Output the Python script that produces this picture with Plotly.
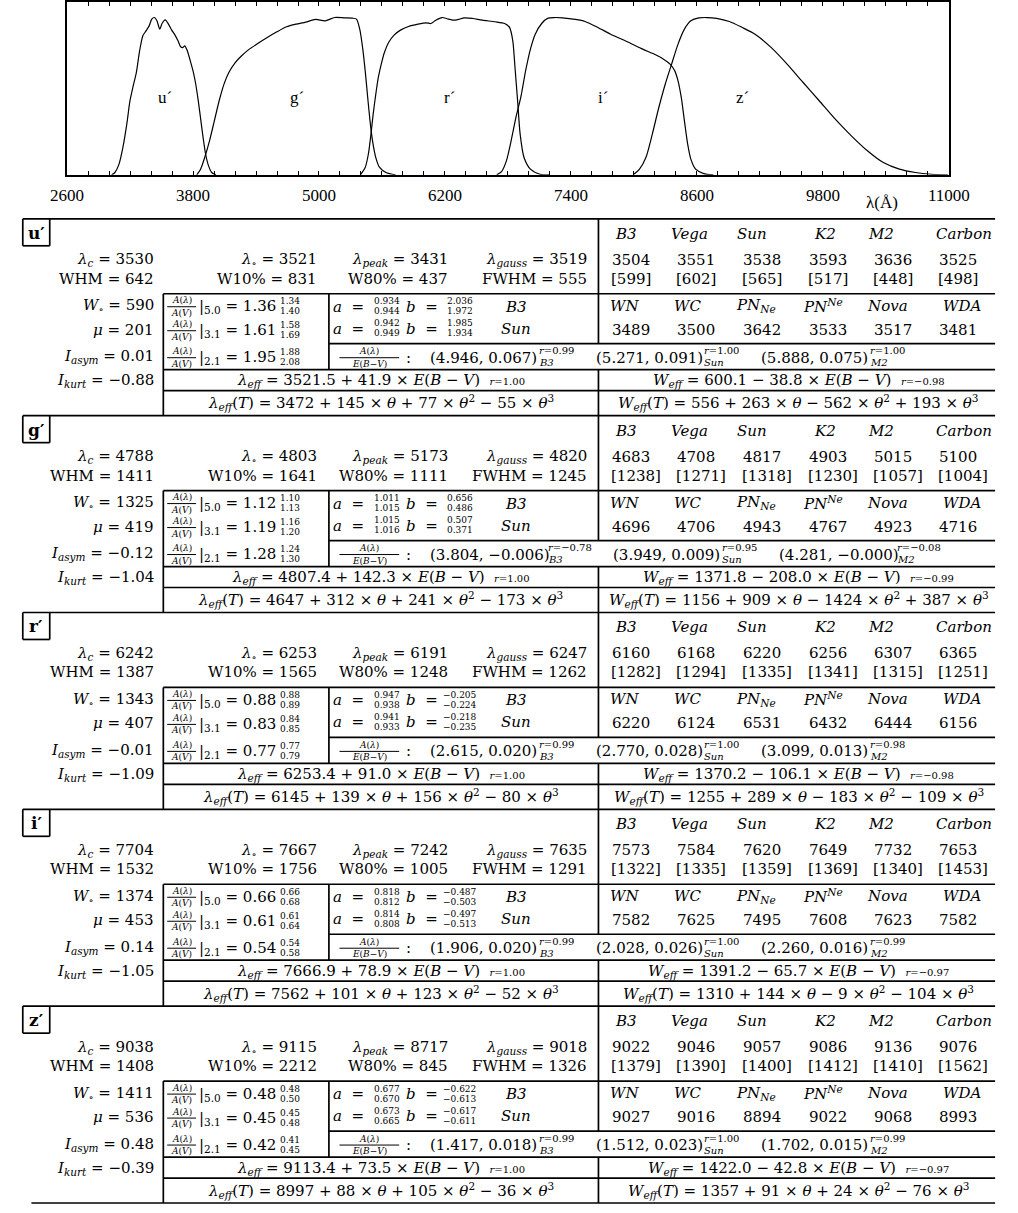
import plotly.graph_objects as go

W, H = 1018, 1213

# ------------------------------------------------------------------
# Filter response curves: wavelength (Å) and normalised transmission
# ------------------------------------------------------------------
u_wave = [3025, 3056, 3095, 3132, 3169, 3199, 3230, 3260, 3291, 3322, 3352, 3382,
          3407, 3432, 3456, 3483, 3505, 3535, 3566, 3597, 3627, 3657, 3682, 3703,
          3721, 3743, 3774, 3804, 3826, 3850, 3875, 3896, 3920, 3948, 3978, 4019]
u_trans = [0.0, 0.015, 0.068, 0.174, 0.322, 0.470, 0.566, 0.650, 0.788, 0.884, 0.915, 0.947,
           0.990, 1.000, 0.979, 0.926, 0.962, 0.985, 0.958, 0.920, 0.890, 0.852, 0.814, 0.809,
           0.820, 0.793, 0.725, 0.650, 0.576, 0.470, 0.343, 0.237, 0.131, 0.057, 0.015, 0.0]

g_wave = [3835, 3872, 3911, 3957, 4003, 4049, 4095, 4141, 4202, 4263, 4324, 4416, 4507,
          4599, 4691, 4782, 4874, 4966, 5058, 5149, 5241, 5317, 5357, 5388, 5415, 5440,
          5464, 5486, 5510, 5541, 5577, 5638, 5730]
g_trans = [0.0, 0.036, 0.110, 0.216, 0.343, 0.471, 0.577, 0.651, 0.714, 0.757, 0.793, 0.835, 0.873,
           0.909, 0.941, 0.958, 0.971, 0.988, 0.979, 1.000, 0.998, 0.996, 0.990, 0.926, 0.810, 0.661,
           0.492, 0.343, 0.216, 0.110, 0.047, 0.015, 0.0]

r_wave = [5394, 5440, 5470, 5495, 5516, 5541, 5565, 5593, 5623, 5663, 5715, 5776, 5852,
          5944, 6020, 6066, 6112, 6173, 6234, 6296, 6387, 6464, 6555, 6678, 6769, 6815,
          6846, 6867, 6892, 6916, 6953, 7014, 7106, 7197]
r_trans = [0.0, 0.047, 0.131, 0.259, 0.386, 0.513, 0.619, 0.704, 0.778, 0.841, 0.888, 0.920, 0.943,
           0.958, 0.966, 0.962, 0.983, 1.000, 0.990, 0.983, 0.998, 0.994, 0.983, 0.973, 0.962, 0.937,
           0.852, 0.682, 0.470, 0.259, 0.110, 0.036, 0.004, 0.0]

i_wave = [6693, 6739, 6785, 6830, 6876, 6922, 6968, 7014, 7060, 7121, 7182, 7243, 7320,
          7442, 7534, 7656, 7778, 7931, 8084, 8206, 8282, 8344, 8389, 8420, 8451, 8481,
          8512, 8542, 8588, 8665, 8756]
i_trans = [0.0, 0.021, 0.089, 0.216, 0.365, 0.492, 0.661, 0.799, 0.894, 0.962, 0.996, 1.000, 0.998,
           0.988, 0.975, 0.937, 0.894, 0.848, 0.799, 0.763, 0.735, 0.704, 0.661, 0.598, 0.492, 0.343,
           0.195, 0.100, 0.036, 0.008, 0.0]

z_wave = [7992, 8053, 8114, 8175, 8237, 8298, 8359, 8420, 8481, 8542, 8619, 8695, 8787,
          8909, 9031, 9154, 9306, 9459, 9612, 9765, 9918, 10071, 10224, 10376, 10529, 10682,
          10835, 10988]
z_trans = [0.0, 0.036, 0.110, 0.259, 0.428, 0.576, 0.704, 0.831, 0.926, 0.979, 0.998, 1.000, 0.995,
           0.975, 0.937, 0.894, 0.810, 0.704, 0.587, 0.471, 0.354, 0.248, 0.153, 0.078, 0.036, 0.015,
           0.004, 0.0]

tick_values = [2600, 3800, 5000, 6200, 7400, 8600, 9800, 11000]
tick_labels = ["2600", "3800", "5000", "6200", "7400", "8600", "9800", "11000"]

# ------------------------------------------------------------------
# Band parameters
# ------------------------------------------------------------------
bands = ["u′", "g′", "r′", "i′", "z′"]
band_marks = ["u´", "g´", "r´", "i´", "z´"]
lam_c = [3530, 4788, 6242, 7704, 9038]
whm = [642, 1411, 1387, 1532, 1408]
w_0 = [590, 1325, 1343, 1374, 1411]
mu = [201, 419, 407, 453, 536]
i_asym = [0.01, -0.12, -0.01, 0.14, 0.48]
i_kurt = [-0.88, -1.04, -1.09, -1.05, -0.39]
lam_0 = [3521, 4803, 6253, 7667, 9115]
w10 = [831, 1641, 1565, 1756, 2212]
lam_peak = [3431, 5173, 6191, 7242, 8717]
w80 = [437, 1111, 1248, 1005, 845]
lam_gauss = [3519, 4820, 6247, 7635, 9018]
fwhm = [555, 1245, 1262, 1291, 1326]

star_types = ["B3", "Vega", "Sun", "K2", "M2", "Carbon"]
lam_eff_star = [[3504, 3551, 3538, 3593, 3636, 3525],
                [4683, 4708, 4817, 4903, 5015, 5100],
                [6160, 6168, 6220, 6256, 6307, 6365],
                [7573, 7584, 7620, 7649, 7732, 7653],
                [9022, 9046, 9057, 9086, 9136, 9076]]
w_eff_star = [[599, 602, 565, 517, 448, 498],
              [1238, 1271, 1318, 1230, 1057, 1004],
              [1282, 1294, 1335, 1341, 1315, 1251],
              [1322, 1335, 1359, 1369, 1340, 1453],
              [1379, 1390, 1400, 1412, 1410, 1562]]
emission_types = ["WN", "WC", "PN<sub>Ne</sub>", "PN<sup>Ne</sup>", "Nova", "WDA"]
lam_eff_emission = [[3489, 3500, 3642, 3533, 3517, 3481],
                    [4696, 4706, 4943, 4767, 4923, 4716],
                    [6220, 6124, 6531, 6432, 6444, 6156],
                    [7582, 7625, 7495, 7608, 7623, 7582],
                    [9027, 9016, 8894, 9022, 9068, 8993]]

r_v = ["5.0", "3.1", "2.1"]
ext_ratio = [[1.36, 1.61, 1.95], [1.12, 1.19, 1.28], [0.88, 0.83, 0.77],
             [0.66, 0.61, 0.54], [0.48, 0.45, 0.42]]
ext_ratio_hi = [[1.34, 1.58, 1.88], [1.10, 1.16, 1.24], [0.88, 0.84, 0.77],
                [0.66, 0.61, 0.54], [0.48, 0.45, 0.41]]
ext_ratio_lo = [[1.40, 1.69, 2.08], [1.13, 1.20, 1.30], [0.89, 0.85, 0.79],
                [0.68, 0.64, 0.58], [0.50, 0.48, 0.45]]

a_b3 = [(0.934, 0.944), (1.011, 1.015), (0.947, 0.938), (0.818, 0.812), (0.677, 0.670)]
b_b3 = [(2.036, 1.972), (0.656, 0.486), (-0.205, -0.224), (-0.487, -0.503), (-0.622, -0.613)]
a_sun = [(0.942, 0.949), (1.015, 1.016), (0.941, 0.933), (0.814, 0.808), (0.673, 0.665)]
b_sun = [(1.985, 1.934), (0.507, 0.371), (-0.218, -0.235), (-0.497, -0.513), (-0.617, -0.611)]

fit_stars = ["B3", "Sun", "M2"]
ae_b3 = [(4.946, 0.067, 0.99), (3.804, -0.006, -0.78), (2.615, 0.020, 0.99),
         (1.906, 0.020, 0.99), (1.417, 0.018, 0.99)]
ae_sun = [(5.271, 0.091, 1.00), (3.949, 0.009, 0.95), (2.770, 0.028, 1.00),
          (2.028, 0.026, 1.00), (1.512, 0.023, 1.00)]
ae_m2 = [(5.888, 0.075, 1.00), (4.281, -0.0, -0.08), (3.099, 0.013, 0.98),
         (2.260, 0.016, 0.99), (1.702, 0.015, 0.99)]

lam_eff_fit = [(3521.5, 41.9, 1.00), (4807.4, 142.3, 1.00), (6253.4, 91.0, 1.00),
               (7666.9, 78.9, 1.00), (9113.4, 73.5, 1.00)]
w_eff_fit = [(600.1, -38.8, -0.98), (1371.8, -208.0, -0.99), (1370.2, -106.1, -0.98),
             (1391.2, -65.7, -0.97), (1422.0, -42.8, -0.97)]
lam_eff_poly = [(3472, 145, 77, -55), (4647, 312, 241, -173), (6145, 139, 156, -80),
                (7562, 101, 123, -52), (8997, 88, 105, -36)]
w_eff_poly = [(556, 263, -562, 193), (1156, 909, -1424, 387), (1255, 289, -183, -109),
              (1310, 144, -9, -104), (1357, 91, 24, -76)]

# ------------------------------------------------------------------
# Helpers
# ------------------------------------------------------------------
SERIF = "DejaVu Serif"
TIMES = "Liberation Serif"
NB = "\u00a0"
annotations = []
shapes = []


def px(x):
    return x / W


def py(y):
    return 1 - y / H


def put(x, y, text, size=15, anchor="center", family=SERIF):
    annotations.append(dict(
        x=px(x), y=py(y), xref="paper", yref="paper", text=text,
        showarrow=False, xanchor=anchor, yanchor="middle", borderpad=0,
        font=dict(family=family, size=size, color="black")))


def hline(x0, x1, y, width=1.7):
    shapes.append(dict(type="line", xref="paper", yref="paper",
                       x0=px(x0), x1=px(x1), y0=py(y), y1=py(y),
                       line=dict(color="black", width=width)))


def vline(x, y0, y1, width=1.7):
    shapes.append(dict(type="line", xref="paper", yref="paper",
                       x0=px(x), x1=px(x), y0=py(y0), y1=py(y1),
                       line=dict(color="black", width=width)))


def num(v, nd):
    return f"{v:.{nd}f}".replace("-", "−")


def sgn(v):
    return "+" if v >= 0 else "−"


def small_r(r):
    return f"<span style='font-size:10px'><i>r</i>={num(r, 2)}</span>"


def fraction(xc, yc, top, bottom, half):
    put(xc, yc - 5.5, top, size=9)
    shapes.append(dict(type="line", xref="paper", yref="paper", x0=px(xc - half),
                       x1=px(xc + half), y0=py(yc + 1), y1=py(yc + 1),
                       line=dict(color="black", width=1)))
    put(xc, yc + 7, bottom, size=9)


# ------------------------------------------------------------------
# Upper panel: filter curves
# ------------------------------------------------------------------
fig = go.Figure()
for wave, trans in [(u_wave, u_trans), (g_wave, g_trans), (r_wave, r_trans),
                    (i_wave, i_trans), (z_wave, z_trans)]:
    fig.add_trace(go.Scatter(x=wave, y=trans, mode="lines", hoverinfo="skip",
                             line=dict(color="black", width=1.2, shape="spline", smoothing=0.7)))

for name, lc in zip(band_marks, lam_c):
    annotations.append(dict(x=lc, y=0.49, xref="x", yref="y", text=name, showarrow=False,
                            xanchor="center", yanchor="middle",
                            font=dict(family=TIMES, size=17, color="black")))

annotations.append(dict(x=px(899), y=py(202), xref="paper", yref="paper", text="λ(Å)",
                        showarrow=False, xanchor="center", yanchor="middle",
                        font=dict(family=TIMES, size=17, color="black")))

# ------------------------------------------------------------------
# Lower panel: parameter table
# ------------------------------------------------------------------
TOP = 218
STEP = 197
col_left = [617, 685, 753, 822, 889, 957]
star_head_x = [633, 699, 764, 839, 898, 984]
emis_head_x = [631, 696, 768, 837, 904, 982]

for k in range(5):
    y0 = TOP + k * STEP
    r_head, r1, r2 = y0 + 15, y0 + 41, y0 + 60
    r3, r4, r5, r6, r7 = y0 + 87, y0 + 111, y0 + 138, y0 + 162, y0 + 184

    # rules
    hline(6, 1016, y0)
    vline(6, y0, y0 + 27)
    vline(34, y0, y0 + 27)
    hline(6, 34, y0 + 27)
    hline(152, 1016, y0 + 75)
    hline(324, 1016, y0 + 125)
    hline(152, 1016, y0 + 151)
    hline(152, 1016, y0 + 172)
    vline(604, y0, y0 + 125)
    vline(604, y0 + 151, y0 + STEP)
    vline(152, y0 + 75, y0 + STEP)
    vline(324, y0 + 75, y0 + 151)

    put(20, y0 + 14, f"<b>{bands[k]}</b>", size=17)

    # band shape parameters
    put(143, r1, f"<i>λ<sub>c</sub></i> = {lam_c[k]}", anchor="right")
    put(143, r2, f"WHM = {whm[k]}", anchor="right")
    put(143, r3, f"<i>W</i><sub>∘</sub> = {w_0[k]}", anchor="right")
    put(143, r4, f"<i>μ</i> = {mu[k]}", anchor="right")
    put(143, r5, f"<i>I<sub>asym</sub></i> = {num(i_asym[k], 2)}", anchor="right")
    put(143, r6, f"<i>I<sub>kurt</sub></i> = {num(i_kurt[k], 2)}", anchor="right")
    put(313, r1, f"<i>λ</i><sub>∘</sub> = {lam_0[k]}", anchor="right")
    put(313, r2, f"W10% = {w10[k]}", anchor="right")
    put(449, r1, f"<i>λ<sub>peak</sub></i> = {lam_peak[k]}", anchor="right")
    put(449, r2, f"W80% = {w80[k]}", anchor="right")
    put(593, r1, f"<i>λ<sub>gauss</sub></i> = {lam_gauss[k]}", anchor="right")
    put(593, r2, f"FWHM = {fwhm[k]}", anchor="right")

    # effective wavelengths for stellar types
    for j in range(6):
        put(star_head_x[j], r_head, f"<i>{star_types[j]}</i>")
        put(col_left[j], r1, str(lam_eff_star[k][j]), anchor="left")
        put(col_left[j] - 1, r2, f"[{w_eff_star[k][j]}]", anchor="left")
        put(emis_head_x[j], r3, f"<i>{emission_types[j]}</i>")
        put(col_left[j], r4, str(lam_eff_emission[k][j]), anchor="left")

    # extinction ratios A(λ)/A(V)
    for yc, rv, val, hi, lo in zip([r3, r4, r5], r_v, ext_ratio[k],
                                    ext_ratio_hi[k], ext_ratio_lo[k]):
        fraction(171, yc, "<i>A</i>(<i>λ</i>)", "<i>A</i>(<i>V</i>)", 15)
        put(188, yc + 1, f"|<sub>{rv}</sub> = {num(val, 2)}", anchor="left")
        put(272, yc - 4.5, num(hi, 2), size=9, anchor="left")
        put(272, yc + 5.5, num(lo, 2), size=9, anchor="left")

    # a, b coefficients
    for yc, (a_pair, b_pair, lab) in zip([r3, r4 - 2], [(a_b3[k], b_b3[k], "B3"),
                                                         (a_sun[k], b_sun[k], "Sun")]):
        put(344, yc + 1, f"<i>a</i>{NB}{NB}=")
        put(384, yc - 4.5, num(a_pair[0], 3), size=9)
        put(384, yc + 5.5, num(a_pair[1], 3), size=9)
        put(421, yc + 1, f"<i>b</i>{NB}{NB}=")
        put(460, yc - 4.5, num(b_pair[0], 3), size=9)
        put(460, yc + 5.5, num(b_pair[1], 3), size=9)
        put(518, yc + 1, f"<i>{lab}</i>")

    # A(λ)/E(B−V) fits
    fraction(366, r5, "<i>A</i>(<i>λ</i>)", "<i>E</i>(<i>B</i>−<i>V</i>)", 31)
    put(407, r5 + 1, ":")
    xf = 428
    for (slope, icpt, rr), star in zip([ae_b3[k], ae_sun[k], ae_m2[k]], fit_stars):
        main = f"({num(slope, 3)}, {num(icpt, 3)})"
        put(xf, r5 + 1, main, anchor="left")
        xf += 111 + 10 * main.count("−")
        put(xf + 2, r5 - 6, f"<i>r</i>={num(rr, 2)}", size=10, anchor="left")
        put(xf + 2, r5 + 6, f"<i>{star}</i>", size=10, anchor="left")
        xf += 2 + 40 + (8 if rr < 0 else 0) + 19

    # linear fits with reddening
    c0, c1, rr = lam_eff_fit[k]
    put(378, r6, f"<i>λ<sub>eff</sub></i> = {c0:.1f} {sgn(c1)} {abs(c1):.1f} × "
                 f"<i>E</i>(<i>B</i> − <i>V</i>){NB}{NB}{small_r(rr)}")
    c0, c1, rr = w_eff_fit[k]
    put(812, r6, f"<i>W<sub>eff</sub></i> = {c0:.1f} {sgn(c1)} {abs(c1):.1f} × "
                 f"<i>E</i>(<i>B</i> − <i>V</i>){NB}{NB}{small_r(rr)}")

    # temperature polynomials
    p0, p1, p2, p3 = lam_eff_poly[k]
    put(378, r7, f"<i>λ<sub>eff</sub></i>(<i>T</i>) = {p0} {sgn(p1)} {abs(p1)} × <i>θ</i> "
                 f"{sgn(p2)} {abs(p2)} × <i>θ</i><sup>2</sup> {sgn(p3)} {abs(p3)} × <i>θ</i><sup>3</sup>")
    p0, p1, p2, p3 = w_eff_poly[k]
    put(812, r7, f"<i>W<sub>eff</sub></i>(<i>T</i>) = {p0} {sgn(p1)} {abs(p1)} × <i>θ</i> "
                 f"{sgn(p2)} {abs(p2)} × <i>θ</i><sup>2</sup> {sgn(p3)} {abs(p3)} × <i>θ</i><sup>3</sup>")

hline(15, 1016, TOP + 5 * STEP)

# ------------------------------------------------------------------
# Layout
# ------------------------------------------------------------------
fig.update_layout(
    width=W, height=H, margin=dict(l=0, r=0, t=0, b=0),
    paper_bgcolor="white", plot_bgcolor="white", showlegend=False,
    annotations=annotations, shapes=shapes,
    xaxis=dict(domain=[px(52), px(968)], range=[2600, 11000],
               tickmode="array", tickvals=tick_values, ticktext=tick_labels,
               ticks="inside", ticklen=4, tickwidth=1, tickcolor="black",
               minor=dict(tickmode="linear", tick0=2600, dtick=200, ticks="inside",
                          ticklen=4, tickwidth=1, tickcolor="black", showgrid=False),
               showline=True, linecolor="black", linewidth=1.5, mirror="allticks",
               showgrid=False, zeroline=False, ticklabelstandoff=4,
               tickfont=dict(family=TIMES, size=17, color="black")),
    yaxis=dict(domain=[py(174), py(0.8)], range=[0, 1.1], showticklabels=False,
               ticks="", showline=True, linecolor="black", linewidth=1.5, mirror=True,
               showgrid=False, zeroline=False),
)

fig.write_html("out.html")
